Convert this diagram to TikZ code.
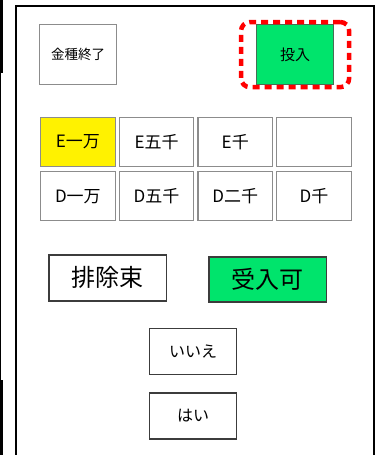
\documentclass[tikz,border=0pt]{standalone}
\usepackage{fontspec}
\setmainfont{Noto Sans CJK JP}
\usetikzlibrary{positioning, fit}

\definecolor{okgreen}{RGB}{0,228,108}
\definecolor{keygray}{RGB}{140,140,140}
\definecolor{keydark}{RGB}{60,60,60}
\definecolor{greenedge}{RGB}{70,110,85}

\begin{document}
\begin{tikzpicture}[x=1pt, y=-1pt, node distance=3pt, very thick]
    % Define styles
    \tikzstyle{topkey} = [draw=keygray, rectangle, line width=1.2pt, minimum width=77pt, minimum height=60pt, inner sep=0pt]
    \tikzstyle{moneykey} = [draw=keygray, rectangle, line width=1.2pt, minimum width=74.5pt, minimum height=49pt, inner sep=0pt, font=\fontsize{17}{17}\selectfont]
    \tikzstyle{bigkey} = [draw=keydark, rectangle, line width=1.5pt, minimum width=117.5pt, minimum height=45pt, inner sep=0pt, font=\fontsize{24}{24}\selectfont]
    \tikzstyle{answerkey} = [draw=keydark, rectangle, line width=1.3pt, minimum width=87pt, minimum height=46pt, inner sep=0pt, font=\fontsize{16}{16}\selectfont]
    \tikzstyle{redmark} = [draw=red, rectangle, line width=4.5pt, dash pattern=on 7pt off 5pt, rounded corners=9pt, inner xsep=15pt, inner ysep=2pt]

    \useasboundingbox (0,0) rectangle (379,455);

    % Frame
    \fill (0,0) rectangle (3,73);
    \fill (0,73) rectangle (1.2,380);
    \fill (0,380) rectangle (3,455);
    \draw[line width=2.5pt] (16,455) -- (16,6) -- (374,6) -- (374,455);

    % TOP KEYS
    \node (kinshu_end) [topkey, anchor=north west, font=\fontsize{13.5}{13.5}\selectfont] at (39,24) {金種終了};
    \node (tonyu) [topkey, anchor=north west, draw=greenedge, fill=okgreen, font=\fontsize{15}{15}\selectfont] at (256,24) {投入};
    \node (tonyu_mark) [redmark, fit=(tonyu)] {};

    % E ROW
    \node (key_e1) [moneykey, anchor=north west, fill=yellow] at (40,117) {E一万};
    \node (key_e2) [moneykey, right=of key_e1] {E五千};
    \node (key_e3) [moneykey, right=of key_e2] {E千};
    \node (key_e4) [moneykey, right=of key_e3] {};

    % D ROW
    \node (key_d1) [moneykey, below=4pt of key_e1] {D一万};
    \node (key_d2) [moneykey, below=4pt of key_e2] {D五千};
    \node (key_d3) [moneykey, below=4pt of key_e3] {D二千};
    \node (key_d4) [moneykey, below=4pt of key_e4] {D千};

    % BUNDLE KEYS
    \node (haijo) [bigkey, anchor=north west, minimum height=46pt] at (48,254) {排除束};
    \node (ukeire) [bigkey, anchor=north west, fill=okgreen] at (208,256) {受入可};

    % ANSWER KEYS
    \node (iie) [answerkey, anchor=north west] at (149,328) {いいえ};
    \node (hai) [answerkey, below=17pt of iie] {はい};

\end{tikzpicture}
\end{document}
